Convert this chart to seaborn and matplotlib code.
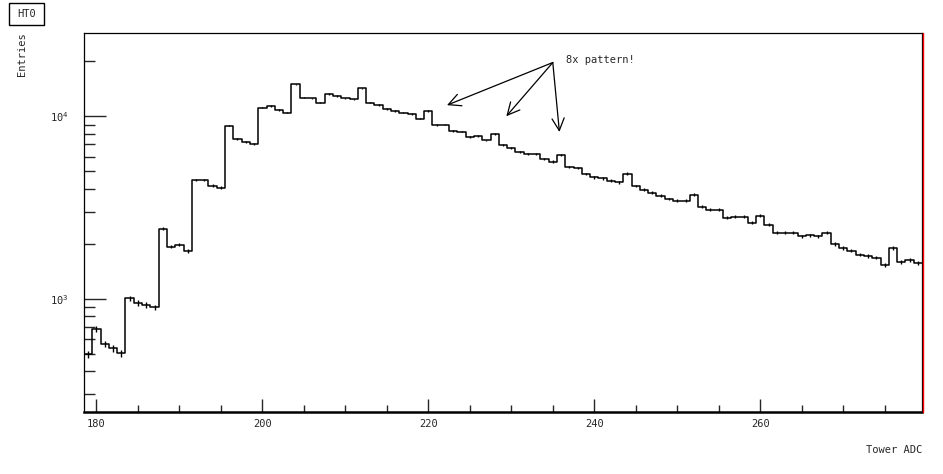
import numpy as np
import pandas as pd
import seaborn as sns
import matplotlib.pyplot as plt
from matplotlib.lines import Line2D
from matplotlib.patches import Rectangle
from matplotlib.ticker import MultipleLocator, LogLocator, LogFormatterMathtext, NullFormatter

# tower ADC bins 179..279, entries
adc = np.arange(179, 280)
entries = [
    497, 681, 564, 533, 503, 1004, 947, 923, 896, 2415,
    1931, 1980, 1829, 4489, 4489, 4161, 4057, 8890, 7504, 7197,
    7079, 11164, 11347, 10789, 10478, 14937, 12637, 12512, 11864, 13211,
    12881, 12512, 12355, 14200, 11864, 11494, 10967, 10653, 10478, 10256,
    9714, 10653, 8923, 9003, 8291, 8238, 7686, 7765, 7362, 7964,
    6928, 6670, 6341, 6237, 6183, 5821, 5645, 6106, 5245, 5180,
    4819, 4622, 4564, 4439, 4339, 4850, 4151, 3956, 3813, 3667,
    3521, 3441, 3441, 3718, 3194, 3075, 3072, 2776, 2804, 2804,
    2609, 2851, 2544, 2299, 2299, 2299, 2197, 2219, 2191, 2296,
    1998, 1899, 1835, 1745, 1716, 1680, 1537, 1889, 1587, 1632,
    1563,
]

# arrows for the annotation
arrow_from = (235.0, 19700)
arrow_tips_x = [222.25, 229.4, 235.8]
arrow_tips_y = [11500, 10000, 8200]

df = pd.DataFrame({"adc": adc, "entries": entries})

sns.set_style("white")
plt.rcParams["font.family"] = ["DejaVu Sans Mono"]

W, H = 943, 474
fig = plt.figure(figsize=(W / 100, H / 100), dpi=100)
ax = fig.add_axes([84 / W, 1 - 412 / H, (922 - 84) / W, (412 - 33) / H])

sns.histplot(data=df, x="adc", weights="entries", bins=101, binrange=(178.5, 279.5),
             element="step", fill=False, color="black", linewidth=1.1, ax=ax)
ax.errorbar(df.adc, df.entries, yerr=np.sqrt(df.entries), fmt="none",
            ecolor="black", elinewidth=1)

ax.set_yscale("log")
ax.set_xlim(178.5, 279.5)
ax.set_ylim(239, 28600)
ax.set_xlabel("")
ax.set_ylabel("")

ax.xaxis.set_major_locator(MultipleLocator(20))
ax.xaxis.set_minor_locator(MultipleLocator(5))
ax.yaxis.set_major_locator(LogLocator(base=10))
ax.yaxis.set_major_formatter(LogFormatterMathtext())
ax.yaxis.set_minor_locator(LogLocator(base=10, subs=range(2, 10)))
ax.yaxis.set_minor_formatter(NullFormatter())

ax.tick_params(axis="x", which="major", direction="in", length=9.5, width=1,
               bottom=True, top=False, pad=5, labelsize=7.5)
ax.tick_params(axis="x", which="minor", direction="in", length=5, width=1,
               bottom=True, top=False)
ax.tick_params(axis="y", which="major", direction="in", length=16, width=1,
               left=True, right=False, pad=11, labelsize=7.5)
ax.tick_params(axis="y", which="minor", direction="in", length=8, width=1,
               left=True, right=False)

for side in ["top", "left", "right"]:
    ax.spines[side].set_linewidth(0.9)
    ax.spines[side].set_color("black")
ax.spines["bottom"].set_linewidth(1.8)
ax.spines["bottom"].set_color("black")

for tx, ty in zip(arrow_tips_x, arrow_tips_y):
    ax.annotate("", xy=(tx, ty), xytext=arrow_from,
                arrowprops=dict(arrowstyle="->", color="black", lw=0.9,
                                mutation_scale=22, shrinkA=0, shrinkB=0))
ax.text(236.6, 20300, "8x pattern!", ha="left", va="center", fontsize=7.5)

# titles, ROOT style
fig.text(922 / W, 1 - 450 / H, "Tower ADC", ha="right", va="center", fontsize=7.5)
fig.text(22 / W, 1 - 32 / H, "Entries", ha="center", va="top", rotation=90, fontsize=7.5)

fig.add_artist(Rectangle((10 / W, 1 - 26 / H), 35 / W, 22 / H, transform=fig.transFigure,
                         facecolor="black", edgecolor="none"))
fig.add_artist(Rectangle((9 / W, 1 - 25 / H), 35 / W, 22 / H, transform=fig.transFigure,
                         facecolor="white", edgecolor="black", lw=1))
fig.text(26.5 / W, 1 - 14 / H, "HT0", ha="center", va="center", fontsize=7.5)

fig.add_artist(Line2D([923 / W, 923 / W], [1 - 412 / H, 1 - 33 / H], color="red", lw=1))

fig.savefig("out.png", dpi=100)
